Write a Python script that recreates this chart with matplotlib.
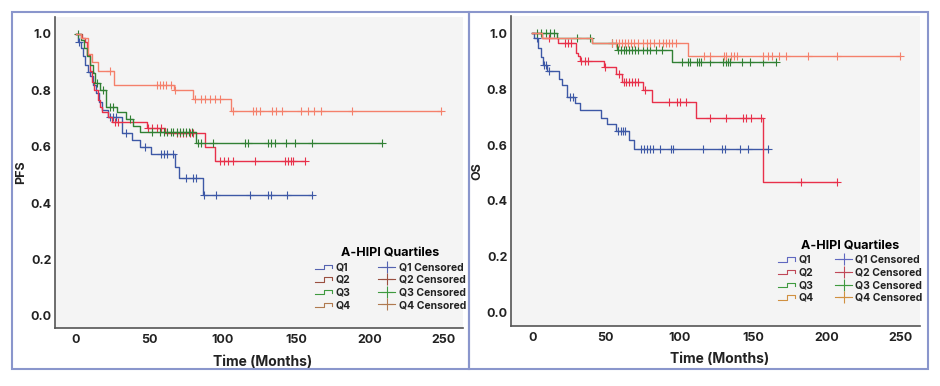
import numpy as np
import matplotlib
matplotlib.use('Agg')
import matplotlib.pyplot as plt
from matplotlib.lines import Line2D
from matplotlib.patches import Rectangle
from matplotlib.legend_handler import HandlerBase

plt.rcParams['font.family'] = ['Inter', 'DejaVu Sans']
plt.rcParams['font.weight'] = 'bold'

groups = ['Q1', 'Q2', 'Q3', 'Q4']
colors = ['#3d58a6', '#e8304a', '#318034', '#f4806b']
pfs_legend_colors = ['#5563b0', '#9a5040', '#3f9a3f', '#b07a50']
os_legend_colors = ['#6068c0', '#c04858', '#3f9a3f', '#d09040']

# ---- PFS (left) : step times, survival after each step, censor times
pfs_q1_t = [0, 1.6, 3.1, 4.7, 6.2, 8.3, 9.8, 11.4, 13.5, 15.6, 17.6, 21.8, 31.1, 37.8, 43.5, 50.8, 67.4, 70.3, 86.6]
pfs_q1_s = [1.0, 0.97, 0.95, 0.92, 0.89, 0.866, 0.85, 0.82, 0.79, 0.76, 0.73, 0.707, 0.65, 0.624, 0.598, 0.573, 0.529, 0.49, 0.43]
pfs_q1_c = [2.1, 9.3, 23.3, 25.4, 27.5, 34.2, 46.7, 58.1, 59.6, 61.7, 66.3, 74.6, 79.8, 81.9, 87.1, 95.4,
            118.2, 130.6, 132.7, 143.7, 160.3]

pfs_q2_t = [0, 3.8, 6.2, 7.8, 9.3, 10.7, 12.4, 15.0, 16.2, 17.4, 21.8, 24.3, 48.0, 60.5, 87.7, 94.3]
pfs_q2_s = [1.0, 0.987, 0.97, 0.925, 0.87, 0.83, 0.80, 0.766, 0.74, 0.724, 0.707, 0.689, 0.668, 0.648, 0.60, 0.551]
pfs_q2_c = [26.5, 28.8, 48.7, 51.8, 54.9, 58.1, 68.4, 70.5, 72.6, 74.6, 77.8, 79.8, 98.0, 100.6, 103.7, 106.8,
            121.8, 142.0, 144.1, 146.2, 147.8, 155.5]

pfs_q3_t = [0, 3.1, 5.2, 7.3, 9.3, 11.4, 13.0, 16.6, 20.7, 27.7, 34.2, 39.0, 43.5, 81.9]
pfs_q3_s = [1.0, 0.98, 0.95, 0.92, 0.89, 0.86, 0.827, 0.80, 0.742, 0.724, 0.70, 0.674, 0.652, 0.612]
pfs_q3_c = [1.6, 14.5, 18.7, 22.8, 24.9, 36.7, 51.8, 57.0, 60.1, 62.2, 64.3, 66.3, 68.4, 70.5, 72.6, 74.6,
            76.7, 78.8, 82.9, 85.0, 93.3, 114.9, 117.1, 130.6, 132.7, 135.3, 143.1, 149.0, 160.3, 208.4]

pfs_q4_t = [0, 3.6, 8.0, 10.7, 14.7, 26.0, 66.7, 79.8, 105.4]
pfs_q4_s = [1.0, 0.987, 0.928, 0.90, 0.869, 0.82, 0.80, 0.768, 0.728]
pfs_q4_c = [23.1, 54.9, 57.0, 59.1, 61.2, 64.3, 67.4, 80.9, 85.0, 88.1, 91.2, 94.3, 98.0, 106.6, 120.3,
            122.3, 125.4, 133.7, 135.8, 140.0, 153.4, 157.6, 161.7, 166.9, 187.6, 248.3]

# ---- OS (right)
os_q1_t = [0, 1, 4, 5.9, 7, 9.8, 18.3, 19.9, 23.3, 29, 32.3, 46.4, 50.5, 56.6, 65.6, 69.4]
os_q1_s = [1.0, 0.984, 0.946, 0.914, 0.886, 0.865, 0.836, 0.815, 0.771, 0.749, 0.725, 0.696, 0.674, 0.650, 0.618, 0.587]
os_q1_c = [3, 8, 9.5, 11.5, 25.6, 27.8, 58.5, 60, 61.5, 63, 74, 76, 78, 80, 82, 86.6, 94, 95.5,
           116.3, 128.8, 131, 141, 146.7, 160.2]

os_q2_t = [0, 6.5, 17.6, 29.7, 31.3, 32.3, 49, 57, 61, 75, 81.6, 111.2, 156.9]
os_q2_s = [1.0, 0.984, 0.964, 0.93, 0.919, 0.90, 0.88, 0.854, 0.827, 0.797, 0.755, 0.696, 0.467]
os_q2_c = [11.6, 22, 24, 26, 33.4, 35.7, 38, 49.7, 59, 62, 64, 66, 68, 70, 72, 76.5, 93, 98.6, 100.5, 104.3,
           120.8, 131.6, 143, 145, 148.5, 155.3, 183, 207.4]

os_q3_t = [0, 16.6, 40.4, 57.4, 94.8]
os_q3_s = [1.0, 0.984, 0.964, 0.94, 0.898]
os_q3_c = [3.5, 6, 9, 12, 14.9, 30.3, 39.3, 54, 58, 60, 62, 64, 66, 68, 70, 72, 75, 78, 80, 84, 88,
           101.6, 106, 107, 111.8, 113.5, 115, 120.8, 129.8, 131.5, 133, 134.6, 142.4, 148, 157, 165.7]

os_q4_t = [0, 6.5, 40.5, 105.7]
os_q4_s = [1.0, 0.984, 0.964, 0.92]
os_q4_c = [54, 57, 59, 61, 63, 65, 67, 69, 72, 75, 78, 80, 83, 86, 89, 91, 93, 95, 98,
           116.5, 121, 130, 132, 135, 137, 139, 157, 160, 163, 168, 172.8, 187.6, 207.4, 250]

pfs_data = [(pfs_q1_t, pfs_q1_s, pfs_q1_c), (pfs_q2_t, pfs_q2_s, pfs_q2_c),
            (pfs_q3_t, pfs_q3_s, pfs_q3_c), (pfs_q4_t, pfs_q4_s, pfs_q4_c)]
os_data = [(os_q1_t, os_q1_s, os_q1_c), (os_q2_t, os_q2_s, os_q2_c),
           (os_q3_t, os_q3_s, os_q3_c), (os_q4_t, os_q4_s, os_q4_c)]

x_ticks = [0, 50, 100, 150, 200, 250]
y_ticks = [0.0, 0.2, 0.4, 0.6, 0.8, 1.0]


class StepHandler(HandlerBase):
    def create_artists(self, legend, orig_handle, xdescent, ydescent, width, height, fontsize, trans):
        x0, w = -xdescent, width
        lo, hi = -ydescent + height * 0.15, -ydescent + height * 0.75
        xs = [x0, x0 + w * 0.55, x0 + w * 0.55, x0 + w, x0 + w]
        ys = [lo, lo, hi, hi, lo + (hi - lo) * 0.3]
        ln = Line2D(xs, ys, color=orig_handle.get_color(), lw=0.8, transform=trans)
        return [ln]


def draw_km(ax, data, ylabel, xlim, ylim, ylabel_x, leg_anchor, leg_colors, colspace):
    ax.set_facecolor('#f4f4f4')
    for (t, s, c), col in zip(data, colors):
        t = np.asarray(t, float)
        s = np.asarray(s, float)
        c = np.asarray(c, float)
        end = max(c.max(), t.max())
        ax.step(np.append(t, end), np.append(s, s[-1]), where='post', color=col, lw=1.0)
        idx = np.searchsorted(t, c, side='right') - 1
        ax.plot(c, s[idx], ls='none', marker='+', ms=6, mew=0.8, color=col)
    ax.set_xlim(*xlim)
    ax.set_ylim(*ylim)
    ax.set_xticks(x_ticks)
    ax.set_yticks(y_ticks)
    ax.set_yticklabels([f'{v:.1f}' for v in y_ticks])
    ax.tick_params(length=0, labelsize=9, labelcolor='#222222')
    ax.tick_params(axis='y', pad=2.5)
    ax.tick_params(axis='x', pad=4)
    for lab in ax.get_xticklabels() + ax.get_yticklabels():
        lab.set_fontweight('bold')
    for sp in ['top', 'right']:
        ax.spines[sp].set_visible(False)
    for sp in ['left', 'bottom']:
        ax.spines[sp].set_color('#555555')
        ax.spines[sp].set_linewidth(1.2)
    ax.set_xlabel('Time (Months)', fontsize=10, fontweight='bold', color='#222222')
    ax.set_ylabel(ylabel, fontsize=9, fontweight='bold', color='#222222')
    ax.xaxis.set_label_coords(0.51, -0.085)
    ax.yaxis.set_label_coords(ylabel_x, 0.5)

    h1 = [Line2D([], [], color=c) for c in leg_colors]
    h2 = [Line2D([], [], color=c, marker='+', ms=8, mew=0.8, lw=0.8) for c in leg_colors]
    labels = groups + [g + ' Censored' for g in groups]
    leg = ax.legend(h1 + h2, labels, ncol=2, loc='lower right', bbox_to_anchor=leg_anchor,
                    frameon=False, fontsize=7.5, title='A-HIPI Quartiles',
                    title_fontproperties={'size': 9, 'weight': 'bold'},
                    handlelength=1.7, handletextpad=0.3, columnspacing=colspace,
                    labelspacing=0.25, borderaxespad=0, borderpad=0,
                    handler_map={h: StepHandler() for h in h1})
    for txt in leg.get_texts():
        txt.set_fontweight('bold')
        txt.set_color('#222222')


fig = plt.figure(figsize=(9.4, 3.86), dpi=100)

ax1 = fig.add_axes([0.0585, 0.150, 0.434, 0.806])
draw_km(ax1, pfs_data, 'PFS', (-14.3, 263.3), (-0.043, 1.06), -0.069, (1.007, 0.058),
        pfs_legend_colors, 2.6)

ax2 = fig.add_axes([0.5436, 0.1554, 0.435, 0.803])
draw_km(ax2, os_data, 'OS', (-14.5, 263.5), (-0.048, 1.062), -0.068, (1.007, 0.075),
        os_legend_colors, 2.0)

border = '#8a96cc'
fig.add_artist(Rectangle((12 / 940, 1 - 369 / 386), 457 / 940, 357 / 386, transform=fig.transFigure,
                         fill=False, edgecolor=border, lw=1.5))
fig.add_artist(Rectangle((469 / 940, 1 - 369 / 386), 459 / 940, 357 / 386, transform=fig.transFigure,
                         fill=False, edgecolor=border, lw=1.5))

fig.savefig('out.png', dpi=100)
